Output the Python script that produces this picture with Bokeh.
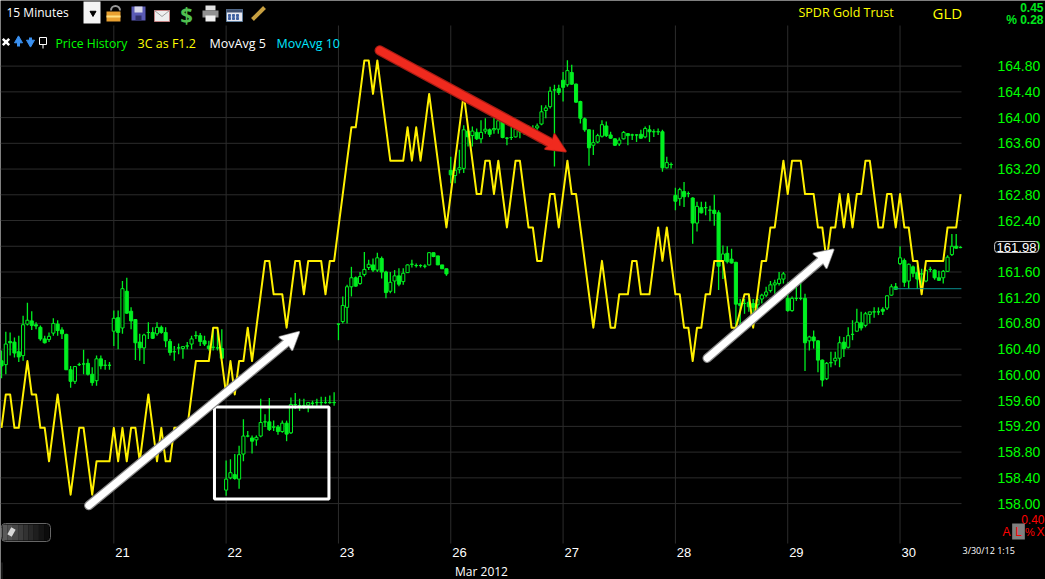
from bokeh.embed import file_html
from bokeh.resources import INLINE
from bokeh.plotting import figure
from bokeh.models import (Range1d, LinearAxis, FixedTicker, PrintfTickFormatter, Label, ColumnDataSource)

# ---- data (15 minute bars, 26 per session) ----
session_labels = ["21", "22", "23", "26", "27", "28", "29", "30"]
session_starts = [0, 26, 52, 78, 104, 130, 156, 182]
price_ticks = [158.0, 158.4, 158.8, 159.2, 159.6, 160.0, 160.4, 160.8, 161.2, 161.6, 162.0, 162.4, 162.8, 163.2, 163.6, 164.0, 164.4, 164.8]
first_bar = -26

opens = [
 160.22,160.16,160.52,160.51,160.36,160.30,160.79,160.84,160.78,160.74,160.56,160.55,160.65,160.79,160.70,160.63,160.08,159.90,160.16,160.17,160.18,160.01,159.91,160.25,160.15,160.15,
 160.68,160.89,160.73,161.30,160.99,160.86,160.51,160.42,160.66,160.66,160.64,160.74,160.66,160.52,160.36,160.42,160.41,160.45,160.48,160.61,160.61,160.53,160.45,160.43,160.42,160.41,
 158.21,158.40,158.45,158.38,158.77,159.05,159.02,158.99,159.05,159.27,159.27,159.19,159.19,159.12,159.25,159.10,159.54,159.52,159.52,159.53,159.56,159.57,159.57,159.57,159.57,159.57,
 160.79,160.83,161.05,161.37,161.51,161.42,161.56,161.67,161.71,161.63,161.81,161.60,161.30,161.46,161.54,161.45,161.59,161.72,161.70,161.70,161.69,161.71,161.90,161.85,161.71,161.65,
 163.18,163.10,163.19,163.21,163.79,163.72,163.77,163.67,163.79,163.81,163.81,163.82,163.95,163.68,163.69,163.70,163.78,163.80,163.81,163.83,163.84,163.90,164.11,164.17,164.43,164.45,
 164.58,164.51,164.70,164.52,164.25,163.98,163.81,163.57,163.62,163.71,163.87,163.73,163.67,163.59,163.67,163.75,163.73,163.73,163.74,163.70,163.81,163.78,163.78,163.78,163.22,163.27,
 162.79,162.74,162.85,162.82,162.75,162.36,162.60,162.60,162.56,162.56,162.52,161.77,161.89,161.80,161.75,161.11,161.11,161.13,161.11,161.09,161.18,161.24,161.31,161.40,161.42,161.49,
 161.19,161.00,161.19,161.19,161.19,160.53,160.59,160.53,160.23,159.94,160.19,160.22,160.26,160.51,160.43,160.63,160.68,160.81,160.77,160.94,160.98,160.98,161.02,161.04,161.24,161.37,
 161.73,161.78,161.46,161.68,161.59,161.57,161.46,161.64,161.63,161.51,161.51,161.61,161.87,162.00,161.98]
highs = [
 160.38,160.67,160.66,160.58,160.61,160.92,161.12,160.99,160.82,160.77,160.61,160.66,160.88,160.85,160.74,160.64,160.14,160.14,160.19,160.39,160.25,160.12,160.30,160.30,160.23,160.20,
 161.00,161.00,161.46,161.51,161.05,160.87,160.64,160.64,160.82,160.74,160.82,160.77,160.74,160.56,160.45,160.49,160.45,160.51,160.61,160.68,160.65,160.61,160.53,160.71,160.73,160.71,
 158.67,158.69,158.77,158.90,159.31,159.13,159.06,159.06,159.63,159.39,159.64,159.29,159.22,159.29,159.29,159.65,159.72,159.63,159.63,159.57,159.60,159.63,159.66,159.66,159.68,159.73,
 160.80,161.22,161.40,161.68,161.53,161.60,161.91,161.79,161.81,161.90,161.84,161.62,161.60,161.63,161.66,161.66,161.72,161.79,161.73,161.72,161.72,161.91,161.90,161.85,161.71,161.65,
 163.39,163.31,163.50,163.88,163.83,163.86,163.83,163.96,163.99,163.83,164.01,164.04,163.97,163.70,163.91,163.83,163.83,163.86,163.88,163.88,163.91,164.19,164.19,164.48,164.51,164.51,
 164.71,164.89,164.82,164.53,164.26,164.00,163.82,163.81,163.75,163.96,163.94,163.78,163.68,163.69,163.79,163.76,163.75,163.74,163.81,163.86,163.88,163.82,163.83,163.81,163.39,163.30,
 162.91,162.91,163.00,162.85,162.76,162.69,162.69,162.69,162.63,162.80,162.56,162.01,162.00,161.96,161.76,161.18,161.18,161.26,161.18,161.21,161.26,161.37,161.46,161.48,161.60,161.60,
 161.44,161.22,161.42,161.44,161.26,160.61,160.69,160.54,160.24,160.20,160.36,160.36,160.60,160.59,160.74,160.85,161.03,160.98,160.98,160.98,161.05,161.05,161.05,161.24,161.41,161.43,
 162.00,161.81,161.73,161.70,161.70,161.65,161.64,161.68,161.64,161.62,161.63,161.86,162.19,162.19,162.00]
lows = [
 159.95,160.01,160.30,160.27,160.20,160.22,160.77,160.70,160.71,160.53,160.49,160.51,160.61,160.61,160.56,160.08,159.80,159.86,160.14,160.01,159.99,159.83,159.83,160.09,160.08,160.08,
 160.45,160.40,160.64,160.95,160.71,160.23,160.22,160.17,160.56,160.56,160.61,160.64,160.43,160.30,160.22,160.32,160.25,160.40,160.40,160.56,160.45,160.45,160.38,160.38,160.38,160.25,
 158.12,158.38,158.37,158.23,158.66,159.03,158.78,158.90,159.03,159.19,159.13,159.13,159.07,159.10,158.97,159.08,159.47,159.44,159.47,159.42,159.52,159.52,159.52,159.55,159.55,159.52,
 160.54,160.80,160.80,161.22,161.37,161.40,161.53,161.63,161.60,161.60,161.50,161.19,161.27,161.27,161.38,161.40,161.59,161.67,161.67,161.67,161.66,161.70,161.83,161.71,161.65,161.54,
 162.98,162.98,163.13,163.14,163.55,163.55,163.65,163.60,163.75,163.70,163.75,163.75,163.68,163.57,163.65,163.69,163.68,163.73,163.75,163.73,163.81,163.88,163.99,164.14,163.24,164.35,
 164.25,164.48,164.51,164.23,163.91,163.78,163.25,163.42,163.60,163.69,163.70,163.67,163.56,163.56,163.66,163.57,163.65,163.62,163.67,163.68,163.62,163.70,163.73,163.16,163.21,163.21,
 162.56,162.63,162.61,162.76,162.04,162.23,162.51,162.48,162.39,162.32,161.32,161.49,161.73,161.73,160.74,160.74,160.95,160.98,160.90,160.95,161.11,161.21,161.28,161.26,161.39,161.42,
 160.98,160.98,161.15,161.16,160.06,160.38,160.41,160.04,159.82,159.92,160.12,160.15,160.12,160.28,160.41,160.54,160.67,160.69,160.74,160.80,160.89,160.93,160.93,161.01,161.23,161.32,
 161.71,161.37,161.34,161.52,161.34,161.37,161.44,161.60,161.48,161.46,161.42,161.60,161.85,161.96,161.97]
closes = [
 160.14,160.48,160.50,160.34,160.28,160.78,160.85,160.77,160.76,160.56,160.50,160.60,160.80,160.69,160.64,160.08,159.90,160.13,160.16,160.17,160.01,159.88,160.25,160.14,160.15,160.15,
 160.88,160.66,161.34,160.96,160.84,160.50,160.42,160.62,160.66,160.57,160.74,160.66,160.53,160.35,160.36,160.42,160.44,160.45,160.56,160.61,160.52,160.48,160.41,160.43,160.42,160.26,
 158.38,158.48,158.39,158.76,159.05,159.05,158.97,159.03,159.26,159.27,159.15,159.19,159.12,159.25,159.08,159.54,159.54,159.52,159.52,159.57,159.56,159.57,159.57,159.57,159.57,159.57,
 160.79,161.08,161.37,161.51,161.38,161.53,161.64,161.72,161.63,161.82,161.60,161.28,161.44,161.54,161.41,161.58,161.71,161.72,161.70,161.70,161.69,161.90,161.84,161.71,161.65,161.57,
 163.11,163.18,163.22,163.81,163.70,163.79,163.67,163.77,163.82,163.74,163.83,163.95,163.69,163.68,163.69,163.82,163.78,163.80,163.81,163.83,163.87,164.09,164.15,164.41,164.43,164.39,
 164.47,164.73,164.52,164.24,163.99,163.81,163.53,163.61,163.72,163.89,163.72,163.68,163.57,163.65,163.77,163.72,163.73,163.73,163.68,163.83,163.78,163.78,163.78,163.22,163.30,163.27,
 162.70,162.88,162.77,162.82,162.36,162.62,162.52,162.60,162.56,162.51,161.69,161.88,161.76,161.74,161.10,161.08,161.11,161.06,161.05,161.17,161.24,161.29,161.40,161.43,161.49,161.57,
 161.00,161.19,161.19,161.19,160.50,160.59,160.53,160.23,159.92,160.18,160.19,160.26,160.50,160.41,160.61,160.63,160.82,160.73,160.95,160.98,160.98,160.98,160.99,161.23,161.37,161.33,
 161.82,161.44,161.72,161.58,161.49,161.57,161.62,161.64,161.51,161.47,161.61,161.83,162.00,161.97,161.98]

# 3C indicator, in its own steps counted down from the top of its scale
three_c_steps = [
 11,10,10,11,11,10,9,10,10,11,11,12,11,10,11,12,13,12,11,11,12,13,12,12,12,12,
 11,12,11,12,11,11,12,11,10,11,12,11,12,12,11,11,11,11,10,9,9,9,9,8,8,9,
 10,9,10,9,9,8,9,8,7,6,6,7,7,7,8,7,6,6,7,6,6,6,6,7,6,6,
 5,4,3,2,2,1,0,0,1,0,1,2,3,3,3,3,2,3,2,3,2,1,2,3,4,5,
 4,3,2,1,2,3,4,4,3,3,4,3,4,5,4,3,3,4,5,5,6,6,5,4,4,5,
 4,3,4,4,5,6,7,8,7,6,7,8,8,7,7,7,6,6,7,7,7,6,5,6,5,6,
 7,7,8,8,9,8,8,7,7,6,6,6,7,8,8,7.5,7,7,8,7,6,6,5,5,4,3,
 4,3,3,3,4,4,4,5,5,6,5,5,4,5,4,5,4,4,3,3,4,5,5,4,4,5,
 4,5,5,6,6,7,6,6,6,6,6,5,5,5,4]

last_price = 161.98
reference_level = 161.34
reference_from_bar = 180.5
reference_to_bar = 196.2

box_bars = (23.3, 49.8)
box_prices = (158.07, 159.50)

GREEN = "#00f020"
YELLOW = "#fff000"
GRID = "#2c2c2c"
FONT = "Open Sans"
AXIS_FONT = "Liberation Sans"

PLOT_RIGHT_BAR = 196.23
PLOT_BOTTOM_PRICE = 157.38

# ---- figure: the canvas is all frame, the axes sit at fixed places in it ----
p = figure(width=1045, height=579, output_backend="svg", toolbar_location=None,
           x_range=Range1d(-26.23, 215.67), y_range=Range1d(156.82, 165.82),
           x_axis_location=None, y_axis_location=None,
           background_fill_color="black", border_fill_color="black",
           outline_line_color=None, margin=(0, 0, 0, 0),
           styles={"position": "absolute", "left": "0px", "top": "0px"},
           min_border=0)
p.extra_y_ranges["three_c"] = Range1d(15.54, -1.796)
p.extra_x_ranges["px"] = Range1d(0, 1045)
p.extra_y_ranges["px"] = Range1d(579, 0)

right_axis = LinearAxis(ticker=FixedTicker(ticks=price_ticks), formatter=PrintfTickFormatter(format="%.2f"),
                        fixed_location=PLOT_RIGHT_BAR,
                        axis_line_color=None, major_tick_line_color=None, minor_tick_line_color=None,
                        major_label_text_color="#00ff00", major_label_text_font=AXIS_FONT,
                        major_label_text_font_size="14px", major_label_standoff=30)
p.add_layout(right_axis, "right")

# the day numbers stand just right of their session lines
label_bars = [s + 2 for s in session_starts]
bottom_axis = LinearAxis(ticker=FixedTicker(ticks=label_bars),
                         major_label_overrides=dict(zip(label_bars, session_labels)),
                         fixed_location=PLOT_BOTTOM_PRICE,
                         axis_line_color=None, major_tick_line_color=None, minor_tick_line_color=None,
                         major_label_text_color="white", major_label_text_font=AXIS_FONT,
                         major_label_text_font_size="13px", major_label_standoff=-1)
p.add_layout(bottom_axis, "below")

p.xgrid.visible = False
p.ygrid.visible = False
# price grid and session lines
p.segment(x0=[-26.23] * len(price_ticks), x1=[PLOT_RIGHT_BAR] * len(price_ticks), y0=price_ticks, y1=price_ticks,
          line_color=GRID, line_width=1)
p.segment(x0=session_starts, x1=session_starts, y0=[25] * len(session_starts), y1=[543] * len(session_starts),
          y_range_name="px", line_color=GRID, line_width=1)
p.line([1.5, 1.5], [562, 579], x_range_name="px", y_range_name="px", line_color=GRID)

# candles
bars = list(range(first_bar, first_bar + len(opens)))
up = [c > o for o, c in zip(opens, closes)]
src = ColumnDataSource(dict(
    x=bars, h=highs, l=lows,
    top=[max(o, c) for o, c in zip(opens, closes)],
    bottom=[min(o, c) for o, c in zip(opens, closes)],
    fill=["black" if u else GREEN for u in up]))
p.segment(x0="x", x1="x", y0="h", y1="l", source=src, line_color=GREEN, line_width=1.3)
p.vbar(x="x", width=0.72, top="top", bottom="bottom", source=src, fill_color="fill", line_color=GREEN, line_width=1)

# 3C line
p.line(bars, three_c_steps, y_range_name="three_c", line_color=YELLOW, line_width=2, line_join="round")

# reference line
p.line([reference_from_bar, reference_to_bar], [reference_level, reference_level], line_color="#0a8f8f", line_width=1)

# white box
p.quad(left=[box_bars[0]], right=[box_bars[1]], bottom=[box_prices[0]], top=[box_prices[1]],
       fill_alpha=0, line_color="white", line_width=3)


def arrow(start, tip, barb_a, notch, barb_b, color, edge, width):
    for c, w, grow in ((edge, width + 2.5, 1.5), (color, width, 0)):
        p.line([start[0], notch[0]], [start[1], notch[1]], x_range_name="px", y_range_name="px",
               line_color=c, line_width=w, line_cap="round")
        p.patch([tip[0], barb_a[0], notch[0], barb_b[0]], [tip[1], barb_a[1], notch[1], barb_b[1]],
                x_range_name="px", y_range_name="px", fill_color=c, line_color=c, line_width=grow + 1,
                line_join="round")


# hand-drawn arrows, placed on the page
arrow((88.3, 505), (298.3, 331.7), (279.3, 336.7), (286.7, 341.7), (291.7, 349.3), "white", "#8a8a8a", 7)
arrow((706.7, 357.7), (832.7, 249.3), (813.3, 253.3), (821, 259.3), (826, 267.3), "white", "#8a8a8a", 7)
arrow((379.3, 50), (565, 150.7), (545, 148.3), (551.7, 143.3), (554, 134), "#f02a1e", "#a81c14", 8)


def label(text, x, y, color, size, align="left", style="normal", font=FONT, **kw):
    p.add_layout(Label(x=x, y=y, x_range_name="px", y_range_name="px", text=text, text_color=color,
                       text_font=font, text_font_size=f"{size}px", text_align=align,
                       text_baseline="middle", text_font_style=style, **kw))


def box(l, r, t, b, color, line=None, **kw):
    p.quad(left=[l], right=[r], top=[t], bottom=[b], x_range_name="px", y_range_name="px",
           fill_color=color, line_color=line, **kw)


# header
label("15 Minutes", 6, 12, "white", 12)
box(83, 100, 1, 23, "#f4f4f4")
p.scatter([92.5], [12.5], x_range_name="px", y_range_name="px", marker="inverted_triangle", size=6, color="black")
# lock
p.arc([115], [10], radius=4.5, start_angle=0, end_angle=3.14, x_range_name="px", y_range_name="px", line_color="#999999", line_width=2)
box(106, 120, 11, 21, "#e8a030")
box(106, 120, 15, 17, "#ffe080")
# floppy
box(131, 145, 6, 20, "#5a5ab4")
box(134, 142, 6, 12, "#d8d8e8")
box(135, 141, 15, 20, "#30306a")
# mail
box(154, 169, 10, 21, "#eeeeee", line="#c08080")
p.line([154, 161.5, 169], [10, 16, 10], x_range_name="px", y_range_name="px", line_color="#a0a0a0")
# dollar
label("$", 186, 13, "#50c050", 22, "center", "bold")
# printer
box(205, 215, 5, 10, "#e0e0e0")
box(202, 218, 10, 17, "#909090")
box(205, 215, 15, 21, "#f0f0f0")
# calendar
box(226, 242, 9, 21, "#e8e8f0", line="#6080a0")
box(226, 242, 9, 12, "#405070")
p.scatter([229, 233, 237, 229, 233, 237], [15, 15, 15, 18, 18, 18], x_range_name="px", y_range_name="px",
          marker="square", size=2, color="#4060a0")
# pencil
p.line([252, 264], [19, 7], x_range_name="px", y_range_name="px", line_color="#c8a040", line_width=4)

# legend row
p.scatter([5.5], [41.5], x_range_name="px", y_range_name="px", marker="x", size=9, line_color="white", line_width=2.5)
for cx, mk in ((18, "triangle"), (30, "inverted_triangle")):
    p.scatter([cx], [40 if mk == "triangle" else 42], x_range_name="px", y_range_name="px", marker=mk, size=8, color="#3a90f0")
    box(cx - 1.5, cx + 1.5, 39 if mk == "triangle" else 37, 46 if mk == "triangle" else 41, "#3a90f0")
box(39, 46, 37, 44, "black", line="white")
p.line([42.5, 42.5], [44, 48], x_range_name="px", y_range_name="px", line_color="white")
label("Price History", 55, 43, "#00ff00", 12.2)
label("3C as F1.2", 137, 43, "#ffff00", 12.5)
label("MovAvg 5", 209, 43, "white", 12.5)
label("MovAvg 10", 276, 43, "#00e8ff", 12.5)

label("SPDR Gold Trust", 798, 12, "#ffff00", 12.5)
label("GLD", 932, 12, "#ffff00", 15)
label("0.45", 1043, 7, "#00e81e", 12, "right", "bold", font=AXIS_FONT)
label("% 0.28", 1043, 19, "#00e81e", 12, "right", "bold", font=AXIS_FONT)

# last price tag
label(f"{last_price:.2f}", 1016, 246.5, "white", 13, "center", font=AXIS_FONT, border_line_color="#cccccc",
      background_fill_color="black", padding=(2, 1), border_radius=3)

# bottom right
label("0.40", 1044, 519, "red", 12, "right", font=AXIS_FONT)
label("A", 1006, 531, "red", 12, "center", font=AXIS_FONT)
label("L", 1018, 531, "red", 12, "center", font=AXIS_FONT, background_fill_color="#808080", padding=(3, 1))
label("%", 1029.5, 531, "red", 11, "center", font=AXIS_FONT)
label("X", 1040, 531, "red", 12, "center", font=AXIS_FONT)
label("3/30/12 1:15", 962, 550, "white", 9)
label("Mar 2012", 481, 570.5, "white", 12, "center")

# scroll handle: a rounded dark pill, lighter on its left
handle_steps = ["#5a5a5a", "#505050", "#464646", "#3c3c3c", "#323232", "#282828", "#1e1e1e", "#141414", "#0c0c0c"]
for k, shade in enumerate(handle_steps):
    box(2 + k * 5.2, 2 + (k + 1) * 5.2, 524, 540, shade)
box(1, 50, 523, 541, None, line="#666666", fill_alpha=0, border_radius=4)
p.line([9, 13], [535, 528], x_range_name="px", y_range_name="px", line_color="#d8d8d8", line_width=5)

open("out.html", "w").write(file_html(p, INLINE))
